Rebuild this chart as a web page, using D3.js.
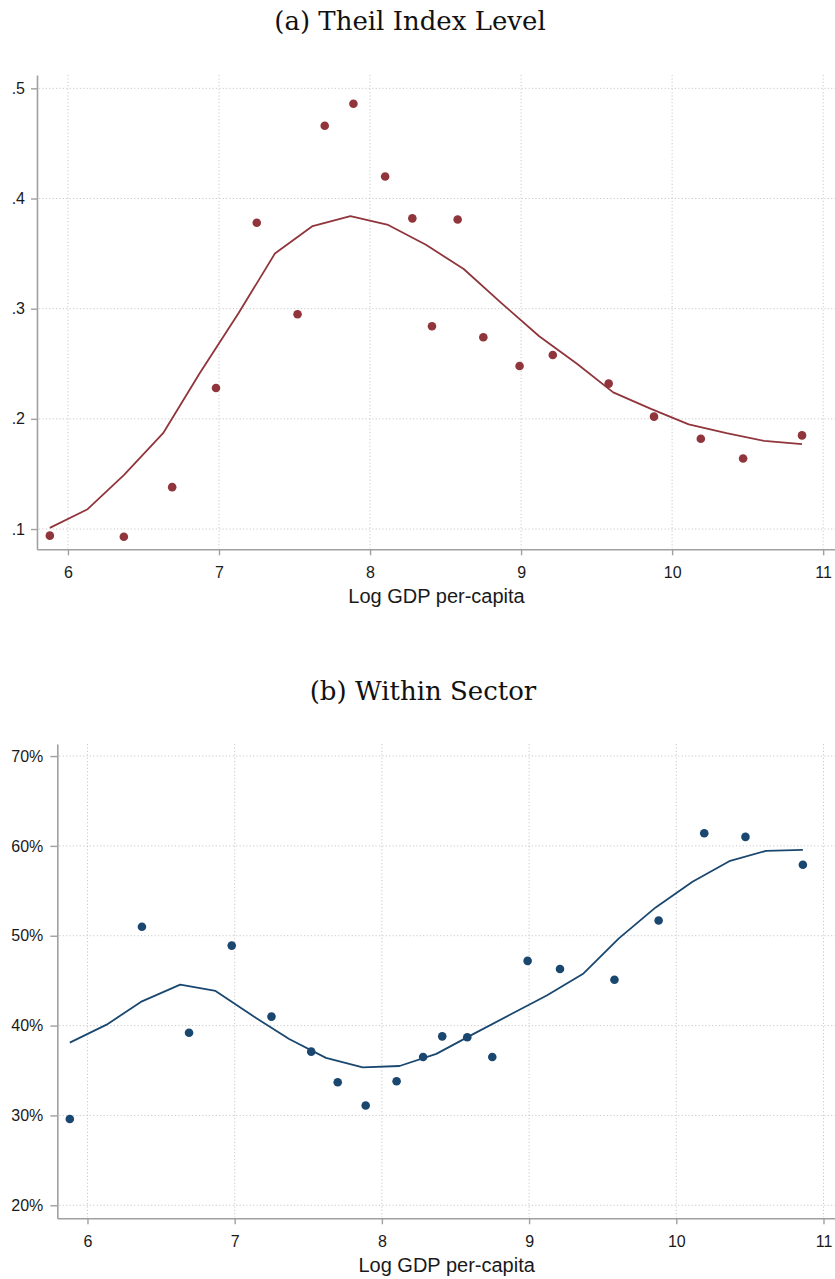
<!DOCTYPE html>
<html>
<head>
<meta charset="utf-8">
<script src="https://cdn.jsdelivr.net/npm/d3@7"></script>
<style>
  body { margin: 0; background: #fff; }
  svg { display: block; }
</style>
</head>
<body>
<div class="chart"></div>
<script>
'use strict';
// log GDP per-capita of each bin (same bins in both panels)
const gdp = [5.88, 6.37, 6.69, 6.98, 7.25, 7.52, 7.70, 7.89, 8.10, 8.28,
             8.41, 8.58, 8.75, 8.99, 9.21, 9.58, 9.88, 10.19, 10.47, 10.86];
const theil = [0.094, 0.093, 0.138, 0.228, 0.378, 0.295, 0.466, 0.486, 0.420, 0.382,
               0.284, 0.381, 0.274, 0.248, 0.258, 0.232, 0.202, 0.182, 0.164, 0.185];
const within = [29.6, 51.0, 39.2, 48.9, 41.0, 37.1, 33.7, 31.1, 33.8, 36.5,
                38.8, 38.7, 36.5, 47.2, 46.3, 45.1, 51.7, 61.4, 61.0, 57.9];

// smoothed fit, evaluated on a 0.25 grid
const fitGdp = [5.88, 6.13, 6.37, 6.63, 6.87, 7.13, 7.37, 7.62, 7.87, 8.12, 8.37,
                8.62, 8.87, 9.12, 9.37, 9.61, 9.86, 10.11, 10.36, 10.61, 10.86];
const theilFit = [0.101, 0.118, 0.149, 0.187, 0.241, 0.296, 0.350, 0.375, 0.384, 0.376, 0.358,
                  0.336, 0.305, 0.275, 0.250, 0.224, 0.209, 0.195, 0.187, 0.180, 0.177];
const withinFit = [38.1, 40.1, 42.7, 44.55, 43.85, 41.0, 38.5, 36.4, 35.35, 35.5, 36.85,
                   39.05, 41.2, 43.35, 45.8, 49.7, 53.15, 56.0, 58.3, 59.45, 59.55];

const xTicks = [6, 7, 8, 9, 10, 11];
const theilTicks = [0.1, 0.2, 0.3, 0.4, 0.5];
const withinTicks = [20, 30, 40, 50, 60, 70];
const xDomain = [5.795, 11.085];

const width = 835, height = 1279;
const axisGray = "#a0a0a0";
const gridGray = "#c9c9c9";
const sans = "'Liberation Sans', Arial, sans-serif";
const serif = "'DejaVu Serif', serif";

const svg = d3.select(".chart").append("svg")
    .attr("width", width)
    .attr("height", height);

function panel({title, titleX, titleY, left, right, top, bottom, yDomain, yTicks, yFormat,
                yTick, xs, ys, fx, fy, color}) {
    const x = d3.scaleLinear().domain(xDomain).range([left, right]);
    const y = d3.scaleLinear().domain(yDomain).range([bottom, top]);
    const g = svg.append("g");

    // dotted grid
    g.append("g").selectAll("line")
        .data(yTicks)
        .join("line")
            .attr("x1", left + 2).attr("x2", right)
            .attr("y1", d => y(d)).attr("y2", d => y(d));
    g.append("g").selectAll("line")
        .data(xTicks)
        .join("line")
            .attr("x1", d => x(d)).attr("x2", d => x(d))
            .attr("y1", top).attr("y2", bottom - 1);
    g.selectAll("g line")
        .attr("stroke", gridGray)
        .attr("stroke-width", 1)
        .attr("stroke-dasharray", "1.2,2.2");

    // axes
    const ax = g.append("g")
        .attr("transform", `translate(0,${bottom})`)
        .call(d3.axisBottom(x).tickValues(xTicks).tickFormat(d3.format("d"))
            .tickSize(6).tickSizeOuter(0).tickPadding(11));
    const ay = g.append("g")
        .attr("transform", `translate(${left},0)`)
        .call(d3.axisLeft(y).tickValues(yTicks).tickFormat(yFormat)
            .tickSize(yTick).tickSizeOuter(0).tickPadding(yTick));
    [ax, ay].forEach(a => {
        a.select(".domain").attr("stroke", axisGray).attr("stroke-width", 1.6);
        a.selectAll(".tick line").attr("stroke", axisGray).attr("stroke-width", 1.4);
        a.selectAll(".tick text")
            .attr("fill", "#1a1a1a")
            .style("font-family", sans)
            .style("font-size", "16px");
    });

    // smoothed line
    g.append("path")
        .datum(fx.map((d, i) => [d, fy[i]]))
        .attr("fill", "none")
        .attr("stroke", color)
        .attr("stroke-width", 1.8)
        .attr("stroke-linejoin", "round")
        .attr("d", d3.line().x(d => x(d[0])).y(d => y(d[1])));

    // bin means
    g.append("g").selectAll("circle")
        .data(xs.map((d, i) => [d, ys[i]]))
        .join("circle")
            .attr("cx", d => x(d[0]))
            .attr("cy", d => y(d[1]))
            .attr("r", 4.3)
            .attr("fill", color);

    g.append("text")
        .attr("x", (left + right) / 2)
        .attr("y", bottom + 54)
        .attr("text-anchor", "middle")
        .attr("fill", "#1a1a1a")
        .style("font-family", sans)
        .style("font-size", "20px")
        .text("Log GDP per-capita");

    g.append("text")
        .attr("x", titleX)
        .attr("y", titleY)
        .attr("text-anchor", "middle")
        .attr("fill", "#111")
        .style("font-family", serif)
        .style("font-size", "26px")
        .text(title);
}

panel({
    title: "(a) Theil Index Level", titleX: 410, titleY: 30,
    left: 37, right: 836, top: 75, bottom: 549.3,
    yDomain: [0.0816, 0.5121], yTicks: theilTicks,
    yFormat: d => d3.format(".1f")(d).replace(/^0/, ""), yTick: 6,
    xs: gdp, ys: theil, fx: fitGdp, fy: theilFit, color: "#90353b"
});

panel({
    title: "(b) Within Sector", titleX: 423, titleY: 700,
    left: 57.3, right: 836, top: 744, bottom: 1218.3,
    yDomain: [18.55, 71.34], yTicks: withinTicks,
    yFormat: d => d + "%", yTick: 7,
    xs: gdp, ys: within, fx: fitGdp, fy: withinFit, color: "#1a476f"
});
</script>
</body>
</html>
